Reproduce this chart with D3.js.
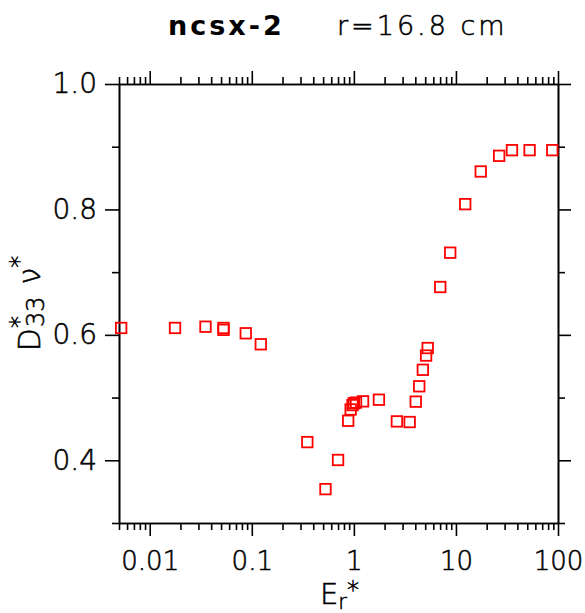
<!DOCTYPE html>
<html>
<head lang="en">
    <meta charset="UTF-8">
    <title>ncsx-2</title>
    <style>
        body { margin: 0; background: #fff; }
        svg { font-family: "DejaVu Sans", sans-serif; font-weight: 300; }
        svg text { stroke: #000; stroke-width: 0.55; }
        .axis path { stroke: #000; stroke-width: 1.6; }
        .axis line { stroke: #000; stroke-width: 1.6; }
        .axis text { fill: #000; }
    </style>
</head>
<body>
<svg id="chart" width="585" height="613"></svg>
<script src="https://cdn.jsdelivr.net/npm/d3@7"></script>
<script>

    // E_r* values and D*33 nu* values
    let er   = [0.00525, 0.0177, 0.0352, 0.0528, 0.0528, 0.0873, 0.1225,
                0.35, 0.527, 0.70, 0.88, 0.93, 0.97, 1.0, 1.05, 1.23, 1.76,
                2.64, 3.52, 4.04, 4.37, 4.74, 5.1, 5.29,
                7.02, 8.79, 12.33, 17.5, 26.5, 35.4, 52.7, 87.9];
    let d33  = [0.611, 0.611, 0.613, 0.611, 0.608, 0.6025, 0.585,
                0.429, 0.354, 0.4005, 0.463, 0.481, 0.488, 0.491, 0.492, 0.494, 0.4966,
                0.462, 0.461, 0.4935, 0.518, 0.5443, 0.567, 0.579,
                0.6763, 0.731, 0.8084, 0.8605, 0.8855, 0.8945, 0.8945, 0.8945];

    let xMajor = [0.01, 0.1, 1, 10, 100];
    let xMajorLabels = ["0.01", "0.1", "1", "10", "100"];
    let yMajor = [0.4, 0.6, 0.8, 1.0];
    let yMajorLabels = ["0.4", "0.6", "0.8", "1.0"];
    let yMinor = [0.3, 0.5, 0.7, 0.9];

    let xMinor = [];
    [0.001, 0.01, 0.1, 1, 10].forEach(dec => {
        for (let k = 2; k <= 9; k++) xMinor.push(dec * k);
    });
    xMinor = xMinor.filter(v => v >= 0.005 && v <= 100);

    let pLeft = 119, pRight = 558, pTop = 84, pBottom = 523;

    let svg = d3.select('#chart');

    let x = d3.scaleLog()
        .domain([0.005, 100])
        .range([pLeft, pRight]);

    let y = d3.scaleLinear()
        .domain([0.3, 1.0])
        .range([pBottom, pTop]);

    let majorLen = 13, minorLen = 7;

    // bottom
    svg.append('g').attr('class', 'axis')
        .attr('transform', 'translate(0,' + pBottom + ')')
        .call(d3.axisBottom(x).tickValues(xMinor).tickSize(minorLen).tickSizeOuter(0).tickFormat(''));
    svg.append('g').attr('class', 'axis xlab')
        .attr('transform', 'translate(0,' + pBottom + ')')
        .call(d3.axisBottom(x).tickValues(xMajor).tickSize(majorLen).tickSizeOuter(0).tickPadding(16)
            .tickFormat((d, i) => xMajorLabels[i]));
    // top
    svg.append('g').attr('class', 'axis')
        .attr('transform', 'translate(0,' + pTop + ')')
        .call(d3.axisTop(x).tickValues(xMinor).tickSize(minorLen).tickSizeOuter(0).tickFormat(''));
    svg.append('g').attr('class', 'axis')
        .attr('transform', 'translate(0,' + pTop + ')')
        .call(d3.axisTop(x).tickValues(xMajor).tickSize(majorLen).tickSizeOuter(0).tickFormat(''));
    // left
    svg.append('g').attr('class', 'axis')
        .attr('transform', 'translate(' + pLeft + ',0)')
        .call(d3.axisLeft(y).tickValues(yMinor).tickSize(minorLen).tickSizeOuter(0).tickFormat(''));
    svg.append('g').attr('class', 'axis ylab')
        .attr('transform', 'translate(' + pLeft + ',0)')
        .call(d3.axisLeft(y).tickValues(yMajor).tickSize(majorLen + 1).tickSizeOuter(0).tickPadding(8)
            .tickFormat((d, i) => yMajorLabels[i]));
    // right
    svg.append('g').attr('class', 'axis')
        .attr('transform', 'translate(' + pRight + ',0)')
        .call(d3.axisRight(y).tickValues(yMinor).tickSize(minorLen).tickSizeOuter(0).tickFormat(''));
    svg.append('g').attr('class', 'axis')
        .attr('transform', 'translate(' + pRight + ',0)')
        .call(d3.axisRight(y).tickValues(yMajor).tickSize(majorLen).tickSizeOuter(0).tickFormat(''));

    svg.selectAll('.xlab text')
        .attr('font-size', 26)
        .attr('font-family', '"DejaVu Sans", sans-serif');
    svg.selectAll('.ylab text')
        .attr('font-size', 28)
        .attr('font-family', '"DejaVu Sans", sans-serif');

    // points
    let sz = 10.5;
    svg.append('g')
        .selectAll('rect')
        .data(er.map((v, i) => [v, d33[i]]))
        .enter().append('rect')
        .attr('x', d => x(d[0]) - sz / 2)
        .attr('y', d => y(d[1]) - sz / 2)
        .attr('width', sz)
        .attr('height', sz)
        .attr('fill', 'none')
        .attr('stroke', '#ff0000')
        .attr('stroke-width', 1.8);

    // title
    let title = svg.append('text')
        .attr('y', 35)
        .attr('font-size', 27)
        .attr('letter-spacing', 3);
    title.append('tspan').attr('x', 168).attr('font-weight', 'bold').attr('stroke-width', 0).text('ncsx-2');
    title.append('tspan').attr('x', 337).text('r=16.8 cm');

    // x label
    let xl = svg.append('text')
        .attr('x', 320)
        .attr('y', 604)
        .attr('font-size', 29);
    xl.append('tspan').text('E');
    xl.append('tspan').attr('font-size', 21).attr('dy', 5).text('r');
    xl.append('tspan').attr('font-size', 24).attr('dy', -11).text('*');

    // y label
    let yl = svg.append('text')
        .attr('transform', 'translate(40,' + ((pTop + pBottom) / 2) + ') rotate(-90)')
        .attr('text-anchor', 'middle')
        .attr('font-size', 30);
    yl.append('tspan').text('D');
    yl.append('tspan').attr('font-size', 24).attr('dy', -13).text('*');
    yl.append('tspan').attr('font-size', 24).attr('dx', -11).attr('dy', 17).text('33');
    yl.append('tspan').attr('dy', -4).attr('dx', 12).text('ν');
    yl.append('tspan').attr('font-size', 24).attr('dy', -13).text('*');

</script>
</body>
</html>
